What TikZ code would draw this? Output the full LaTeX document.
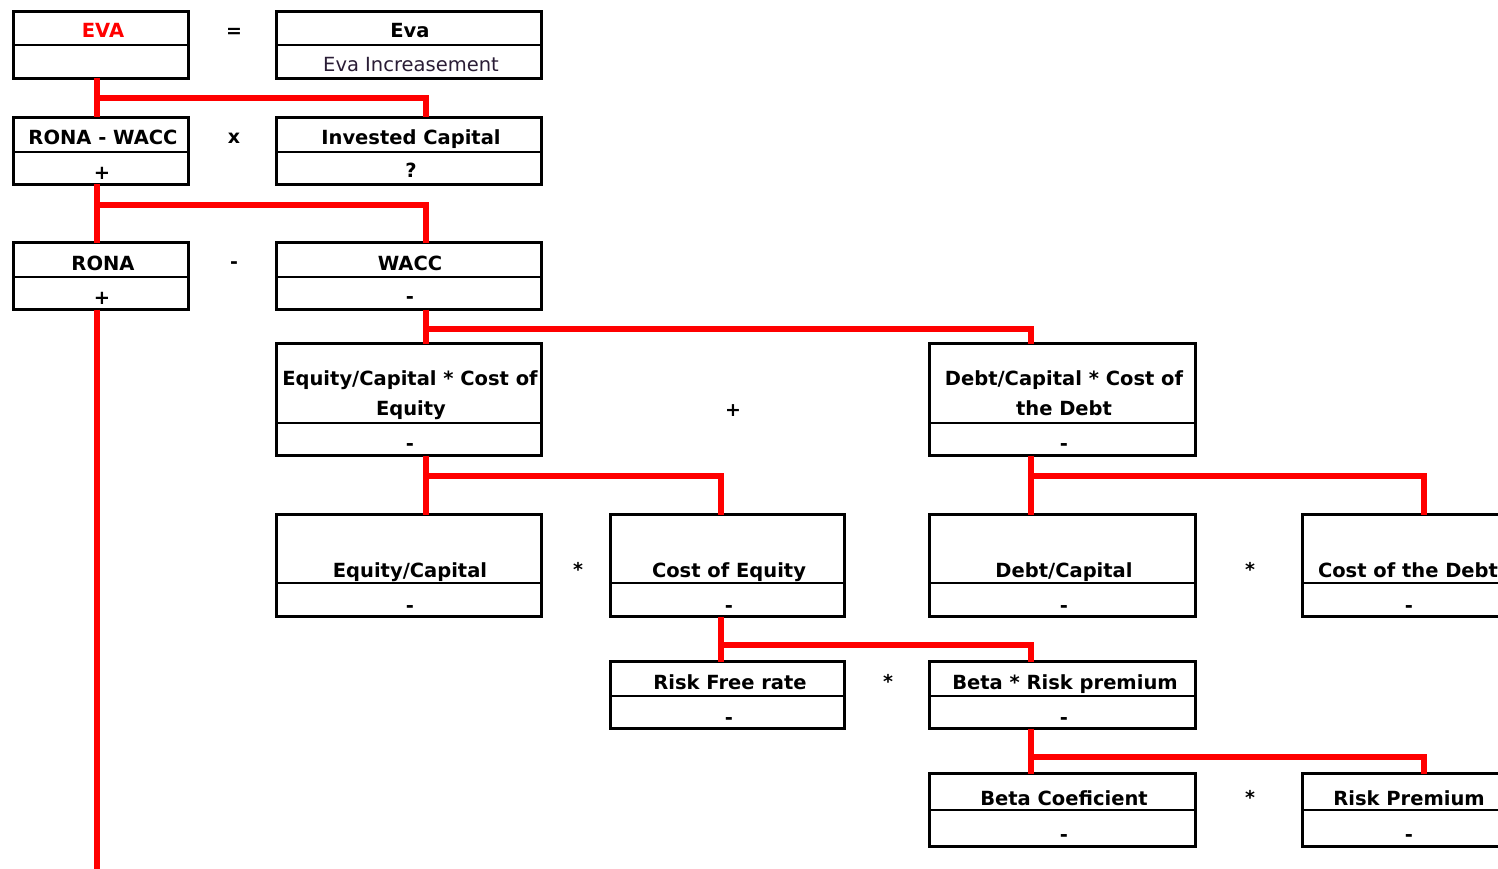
\documentclass[tikz,border=0pt]{standalone}
\usepackage{fontspec}
\setmainfont{DejaVu Sans}
\begin{document}
\begin{tikzpicture}[x=1pt,y=-1pt,
  box/.style={draw=black, line width=3.6pt, fill=white, inner sep=0pt, outer sep=0pt},
  divline/.style={draw=black, line width=1.5pt},
  conn/.style={draw=red, line width=5.5pt, line join=miter},
  lbl/.style={anchor=base, inner sep=0pt, font=\fontsize{19.5}{23}\selectfont\bfseries},
  lbln/.style={anchor=base, inner sep=0pt, font=\fontsize{19.5}{23}\selectfont, text=evatxt},
  op/.style={anchor=base, inner sep=0pt, font=\fontsize{19}{22}\selectfont\bfseries}]
\definecolor{evatxt}{HTML}{2A1D36}
\useasboundingbox (0,0) rectangle (1498,869);
\clip (0,0) rectangle (1498,869);
% column / row coordinates for connectors
\coordinate (cA) at (97,0);
\coordinate (cB) at (426,0);
\coordinate (cC) at (721,0);
\coordinate (cD) at (1031,0);
\coordinate (cE) at (1424,0);
\coordinate (h1) at (0,98);
\coordinate (h2) at (0,205);
\coordinate (h3) at (0,329);
\coordinate (h4) at (0,476);
\coordinate (h5) at (0,645);
\coordinate (h6) at (0,757);
\coordinate (bot) at (97,875);
% boxes
\node[box, minimum width=175pt, minimum height=67pt] (eva) at (101,45) {};
\node[box, minimum width=265pt, minimum height=67pt] (evb) at (409,45) {};
\node[box, minimum width=175pt, minimum height=67pt] (rw) at (101,151) {};
\node[box, minimum width=265pt, minimum height=67pt] (ic) at (409,151) {};
\node[box, minimum width=175pt, minimum height=67pt] (rona) at (101,276) {};
\node[box, minimum width=265pt, minimum height=67pt] (wacc) at (409,276) {};
\node[box, minimum width=265pt, minimum height=112pt] (eqc) at (409,399.5) {};
\node[box, minimum width=266pt, minimum height=112pt] (dbc) at (1062.5,399.5) {};
\node[box, minimum width=265pt, minimum height=102pt] (ec) at (409,565.5) {};
\node[box, minimum width=234pt, minimum height=102pt] (ce) at (727.5,565.5) {};
\node[box, minimum width=266pt, minimum height=102pt] (dc) at (1062.5,565.5) {};
\node[box, minimum width=212pt, minimum height=102pt] (cd) at (1408.5,565.5) {};
\node[box, minimum width=234pt, minimum height=67pt] (rf) at (727.5,695) {};
\node[box, minimum width=266pt, minimum height=67pt] (br) at (1062.5,695) {};
\node[box, minimum width=266pt, minimum height=73pt] (bc) at (1062.5,810) {};
\node[box, minimum width=212pt, minimum height=73pt] (rp) at (1408.5,810) {};
% connectors
\draw[conn] (eva.south -| cA) -- (rw.north -| cA);
\draw[conn] (cA |- h1) -| (ic.north -| cB);
\draw[conn] (rw.south -| cA) -- (rona.north -| cA);
\draw[conn] (cA |- h2) -| (wacc.north -| cB);
\draw[conn] (rona.south -| cA) -- (bot);
\draw[conn] (wacc.south -| cB) -- (eqc.north -| cB);
\draw[conn] (cB |- h3) -| (dbc.north -| cD);
\draw[conn] (eqc.south -| cB) -- (ec.north -| cB);
\draw[conn] (cB |- h4) -| (ce.north -| cC);
\draw[conn] (dbc.south -| cD) -- (dc.north -| cD);
\draw[conn] (cD |- h4) -| (cd.north -| cE);
\draw[conn] (ce.south -| cC) -- (rf.north -| cC);
\draw[conn] (cC |- h5) -| (br.north -| cD);
\draw[conn] (br.south -| cD) -- (bc.north -| cD);
\draw[conn] (cD |- h6) -| (rp.north -| cE);
% dividers
\draw[divline] (eva.west |- 0,45) -- (eva.east |- 0,45);
\draw[divline] (evb.west |- 0,45) -- (evb.east |- 0,45);
\draw[divline] (rw.west |- 0,152) -- (rw.east |- 0,152);
\draw[divline] (ic.west |- 0,152) -- (ic.east |- 0,152);
\draw[divline] (rona.west |- 0,277) -- (rona.east |- 0,277);
\draw[divline] (wacc.west |- 0,277) -- (wacc.east |- 0,277);
\draw[divline] (eqc.west |- 0,423) -- (eqc.east |- 0,423);
\draw[divline] (dbc.west |- 0,423) -- (dbc.east |- 0,423);
\draw[divline] (ec.west |- 0,583) -- (ec.east |- 0,583);
\draw[divline] (ce.west |- 0,583) -- (ce.east |- 0,583);
\draw[divline] (dc.west |- 0,583) -- (dc.east |- 0,583);
\draw[divline] (cd.west |- 0,583) -- (cd.east |- 0,583);
\draw[divline] (rf.west |- 0,696) -- (rf.east |- 0,696);
\draw[divline] (br.west |- 0,696) -- (br.east |- 0,696);
\draw[divline] (bc.west |- 0,810) -- (bc.east |- 0,810);
\draw[divline] (rp.west |- 0,810) -- (rp.east |- 0,810);
% texts
\node[lbl, text=red] (t1) at (103,38) {EVA};
\node[lbl] (t2) at (410,38) {Eva};
\node[lbln] (t3) at (411,72) {Eva Increasement};
\node[lbl] (t4) at (103,145) {RONA - WACC};
\node[lbl] (t5) at (102,179) {+};
\node[lbl] (t6) at (411,145) {Invested Capital};
\node[lbl] (t7) at (411,178) {?};
\node[lbl] (t8) at (103,270) {RONA};
\node[lbl] (t9) at (102,304) {+};
\node[lbl] (t10) at (410,270) {WACC};
\node[lbl] (t11) at (410,303) {-};
\node[lbl] (t12) at (410,385) {Equity/Capital * Cost of};
\node[lbl] (t13) at (411,415) {Equity};
\node[lbl] (t14) at (410,450) {-};
\node[lbl] (t15) at (1064,385) {Debt/Capital * Cost of};
\node[lbl] (t16) at (1064,415) {the Debt};
\node[lbl] (t17) at (1064,450) {-};
\node[lbl] (t18) at (410,577) {Equity/Capital};
\node[lbl] (t19) at (410,612) {-};
\node[lbl] (t20) at (729,577) {Cost of Equity};
\node[lbl] (t21) at (729,612) {-};
\node[lbl] (t22) at (1064,577) {Debt/Capital};
\node[lbl] (t23) at (1064,612) {-};
\node[lbl] (t24) at (1408,577) {Cost of the Debt};
\node[lbl] (t25) at (1409,612) {-};
\node[lbl] (t26) at (730,689) {Risk Free rate};
\node[lbl] (t27) at (729,724) {-};
\node[lbl] (t28) at (1065,689) {Beta * Risk premium};
\node[lbl] (t29) at (1064,724) {-};
\node[lbl] (t30) at (1064,805) {Beta Coeficient};
\node[lbl] (t31) at (1064,841) {-};
\node[lbl] (t32) at (1409,805) {Risk Premium};
\node[lbl] (t33) at (1409,841) {-};
% operators
\node[op] (o1) at (234,38) {=};
\node[op] (o2) at (234,144) {x};
\node[op] (o3) at (234,268) {-};
\node[op] (o4) at (733,416) {+};
\node[op] (o5) at (578,576) {*};
\node[op] (o6) at (1250,576) {*};
\node[op] (o7) at (888,688) {*};
\node[op] (o8) at (1250,804) {*};
\end{tikzpicture}
\end{document}
